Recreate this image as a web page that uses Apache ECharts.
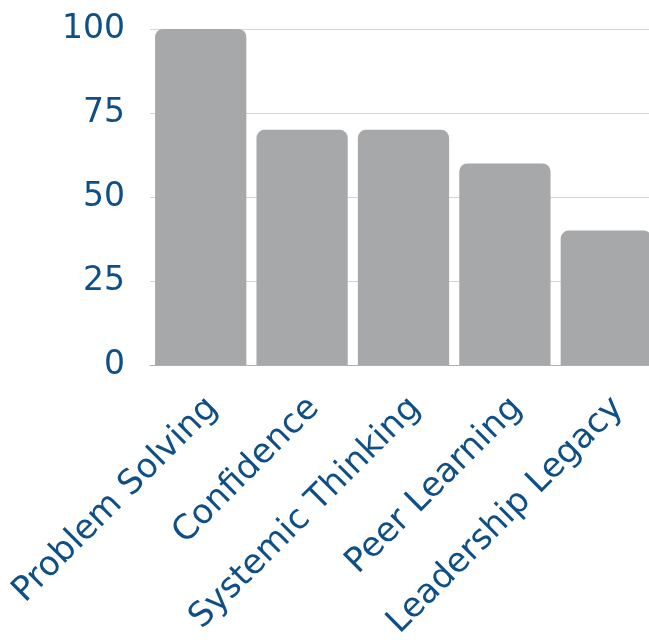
<!DOCTYPE html>
<html><head><meta charset="utf-8">
<script src="https://cdn.jsdelivr.net/npm/echarts@6/dist/echarts.min.js"></script>
<style>html,body{margin:0;padding:0;background:#fff}#c{width:649px;height:643px}</style>
</head><body><div id="c"></div>
<script>
const categories = ["Problem Solving", "Confidence", "Systemic Thinking", "Peer Learning", "Leadership Legacy"];
const values = [100, 70, 70, 60, 40];
const yTicks = [0, 25, 50, 75, 100];

const chart = echarts.init(document.getElementById('c'), null, {renderer: 'canvas'});
chart.setOption({
  animation: false,
  grid: {left: 150, top: 29, width: 507, height: 336, containLabel: false, outerBoundsMode: 'none'},
  xAxis: {
    type: 'category',
    data: categories,
    axisTick: {show: false},
    axisLine: {show: true, lineStyle: {color: '#9fb4c8', width: 1}},
    axisLabel: {rotate: 45, margin: 26, verticalAlign: 'top', color: '#0e4f87', fontFamily: 'DejaVu Sans', fontSize: 34, interval: 0}
  },
  yAxis: {
    type: 'value',
    min: yTicks[0], max: yTicks[yTicks.length - 1], interval: 25,
    axisLine: {show: false},
    axisTick: {show: false},
    splitLine: {lineStyle: {color: '#cdd6e0', width: 1}},
    axisLabel: {margin: 25, color: '#0e4f87', fontFamily: 'DejaVu Sans', fontSize: 33}
  },
  series: [{
    type: 'bar',
    data: values,
    barCategoryGap: '10%',
    itemStyle: {color: '#a7a8aa', borderRadius: [8, 8, 0, 0]}
  }]
});
</script></body></html>
